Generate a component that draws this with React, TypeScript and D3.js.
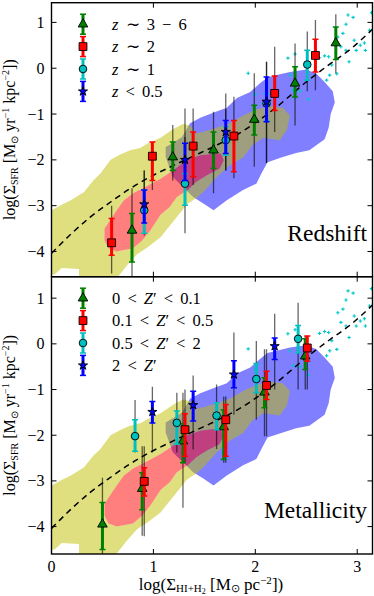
import React from 'react';
import * as d3 from 'd3';

// axis ticks
const xTicks = [0, 1, 2, 3];
const xTickLabels = ['0', '1', '2', '3'];
const yTicks = [1, 0, -1, -2, -3, -4];
const yTickLabels = ['1', '0', '−1', '−2', '−3', '−4'];

// model curve (dashed)
const fitGas = [0, 0.21, 0.38, 0.58, 0.77, 0.97, 1.18, 1.39, 1.62, 1.82, 2.19, 2.5, 2.73, 2.93, 3.15];
const fitSfr = [-4.04, -3.58, -3.25, -2.92, -2.63, -2.37, -2.14, -1.92, -1.68, -1.45, -0.88, -0.3, 0.09, 0.41, 0.85];

// background contours [logGas, logSfr]
const yellowContour = [
  [0, -3.1], [0.1, -2.98], [0.19, -2.88], [0.32, -2.7], [0.41, -2.45], [0.48, -2.3], [0.58, -2.0],
  [0.68, -1.88], [0.77, -1.79], [0.87, -1.74], [0.94, -1.65], [1.07, -1.52], [1.2, -1.32],
  [1.29, -1.22], [1.36, -1.25], [1.42, -1.42], [1.5, -1.38], [1.62, -1.3], [1.75, -1.2],
  [1.88, -1.03], [2.01, -0.9], [2.14, -0.83], [2.27, -0.86], [2.34, -1.04], [2.31, -1.35],
  [2.24, -1.57], [2.08, -1.52], [1.97, -1.68], [1.88, -1.95], [1.75, -2.12], [1.62, -2.38],
  [1.5, -2.68], [1.43, -2.82], [1.33, -2.97], [1.2, -3.33], [1.07, -3.69], [0.94, -3.91],
  [0.84, -4.06], [0.75, -4.28], [0.6, -4.7], [0.27, -4.7], [0.27, -4.38], [0.1, -4.36],
  [0.03, -4.5], [0, -4.5],
];
const redContour = [
  [0.52, -3.5], [0.58, -3.3], [0.64, -3.1], [0.71, -2.88], [0.8, -2.73], [0.92, -2.59],
  [1.07, -2.41], [1.2, -2.22], [1.33, -2.0], [1.46, -1.9], [1.58, -1.87], [1.66, -1.86],
  [1.69, -2.01], [1.65, -2.19], [1.52, -2.34], [1.42, -2.48], [1.34, -2.65], [1.23, -2.81],
  [1.16, -3.03], [1.07, -3.2], [0.97, -3.54], [0.89, -3.76], [0.8, -3.93], [0.64, -4.0],
  [0.56, -3.93], [0.52, -3.76],
];
const blueContour = [
  [1.12, -1.72], [1.2, -1.62], [1.28, -1.5], [1.36, -1.2], [1.46, -1.08], [1.6, -0.96],
  [1.72, -0.86], [1.82, -0.65], [1.95, -0.52], [2.04, -0.34], [2.12, -0.2], [2.21, -0.15],
  [2.34, -0.08], [2.5, -0.03], [2.6, -0.12], [2.68, -0.3], [2.76, -0.5], [2.78, -0.75],
  [2.74, -1.0], [2.72, -1.3], [2.68, -1.55], [2.53, -1.79], [2.4, -1.85], [2.27, -1.94],
  [2.12, -2.05], [2.06, -2.3], [2.01, -2.52], [1.88, -2.66], [1.72, -2.88], [1.59, -3.1],
  [1.49, -2.95], [1.39, -2.81], [1.29, -2.59], [1.19, -2.37], [1.12, -1.94],
];

// small cyan points at high density
const highDensity = [
  [1.93, -0.11], [2.0, -0.57], [2.32, 0.22], [2.39, 0.31], [2.34, -0.15], [2.44, -0.5],
  [2.52, -0.68], [2.37, -0.48], [2.63, 0.23], [2.68, 0.27], [2.72, 0.25], [2.7, -0.26],
  [2.73, -0.15], [2.75, 0.07], [2.8, -0.12], [2.81, 0.68], [2.84, 0.47], [2.86, 0.76],
  [2.89, 0.96], [2.91, 1.16], [2.96, 1.11], [2.92, 0.14], [2.89, 0.39], [2.97, 0.61],
  [2.99, 0.39], [3.03, 0.5], [3.07, 0.55], [3.08, 0.39], [3.12, 0.83], [3.14, 1.21],
];

// [logGas, logSfr, barLo, barHi, rangeLo, rangeHi]
const zHigh = [
  [0.79, -3.54, -4.23, -3.17, -4.55, -2.62],
  [1.19, -1.94, -2.23, -1.61, -2.45, -1.24],
  [1.59, -1.79, -2.19, -1.39, -2.73, -0.95],
  [1.99, -1.12, -1.46, -0.81, -2.15, -0.11],
  [2.39, -0.33, -0.63, 0.03, -1.25, 0.54],
  [2.79, 0.55, 0.19, 0.9, -0.11, 1.18],
];
const zTwo = [
  [0.59, -3.81, -4.08, -3.28, -4.48, -3.0],
  [0.99, -1.92, -2.45, -1.61, -2.66, -1.61],
  [1.39, -1.7, -2.37, -1.39, -2.55, -0.88],
  [1.79, -1.48, -2.26, -1.14, -2.4, -0.62],
  [2.19, -0.55, -0.92, -0.17, -1.39, 0.47],
  [2.59, 0.28, -0.08, 0.63, -0.48, 1.05],
];
const zOne = [
  [0.91, -3.1, -3.6, -2.66, -3.65, -2.23],
  [1.31, -2.52, -2.99, -2.3, -3.6, -1.5],
  [1.71, -1.57, -1.9, -1.28, -2.23, -0.9],
  [2.11, -0.77, -1.14, -0.55, -2.07, 0.14],
  [2.51, 0.08, -0.26, 0.39, -0.5, 0.8],
];
const zLow = [
  [0.91, -2.97, -3.38, -2.66, -3.4, -2.23],
  [1.31, -2.0, -2.45, -1.64, -2.55, -0.88],
  [1.71, -1.39, -1.86, -1.14, -2.23, -0.55],
  [2.11, -0.73, -1.17, -0.19, -2.07, 0.14],
];

const metVeryLow = [
  [0.5, -3.95, -4.5, -3.47, -4.6, -2.93],
  [0.89, -3.17, -3.63, -2.82, -4.2, -2.24],
  [1.29, -2.13, -2.6, -1.75, -3.59, -1.07],
  [1.69, -1.82, -2.53, -1.45, -2.6, -1.15],
  [2.09, -1.06, -1.4, -0.74, -2.02, -0.12],
  [2.49, -0.27, -0.56, 0.11, -1.0, 0.17],
];
const metLow = [
  [0.91, -3.01, -3.33, -2.71, -4.21, -2.24],
  [1.31, -1.88, -2.46, -1.53, -2.6, -1.0],
  [1.71, -1.66, -2.46, -1.33, -2.6, -1.15],
  [2.11, -0.91, -1.22, -0.6, -2.02, -0.12],
  [2.51, -0.09, -0.38, 0.17, -1.0, 0.17],
];
const metSolar = [
  [0.82, -2.02, -2.35, -1.66, -2.38, -1.23],
  [1.23, -1.73, -2.2, -1.47, -2.38, -1.07],
  [1.62, -1.57, -1.88, -1.29, -2.3, -0.89],
  [2.01, -0.77, -1.07, -0.43, -1.66, 0.06],
  [2.42, 0.11, -0.2, 0.4, -1.0, 0.9],
];
const metHigh = [
  [0.99, -1.49, -1.73, -1.26, -2.38, -0.94],
  [1.39, -1.34, -1.69, -1.04, -2.31, -0.69],
  [1.79, -0.67, -0.96, -0.37, -1.55, 0.25],
  [2.19, -0.05, -0.34, 0.13, -1.0, 0.66],
];

const redshiftLabels = ['z ∼ 3 − 6', 'z ∼ 2', 'z ∼ 1', 'z < 0.5'];
const metallicityLabels = ['0 < Z′ < 0.1', '0.1 < Z′ < 0.5', '0.5 < Z′ < 2', '2 < Z′'];

const seriesColors = ['#008000', '#ff0000', '#00bfbf', '#0000ff'];
const seriesSymbols = [d3.symbolTriangle, d3.symbolSquare, d3.symbolCircle, d3.symbolStar];
const symbolSizes = [40, 62, 46, 26];

const FONT = 'Liberation Serif';
const x = d3.scaleLinear().domain([0, 3.15]).range([51.5, 372.5]);

function italicize(label: string) {
  return label.split(/([zZ])/).filter(s => s !== '').map((s, i) =>
    /^[zZ]$/.test(s) ? <tspan key={i} fontStyle="italic">{s}</tspan> : <tspan key={i}>{s}</tspan>);
}

function ErrorMark({ cx, cy, lo, hi, k }: any) {
  const c = seriesColors[k];
  const path = d3.symbol().type(seriesSymbols[k]).size(symbolSizes[k])();
  return (
    <g>
      <line x1={cx} x2={cx} y1={lo} y2={hi} stroke={c} strokeWidth={3} />
      <line x1={cx - 3} x2={cx + 3} y1={lo} y2={lo} stroke={c} strokeWidth={1.5} />
      <line x1={cx - 3} x2={cx + 3} y1={hi} y2={hi} stroke={c} strokeWidth={1.5} />
      <path d={path || ''} transform={`translate(${cx},${cy})`} fill={c} stroke="#000" strokeWidth={0.9} />
    </g>
  );
}

function Panel({ top, bottom, domain, series, labels, title, id, showX }: any) {
  const y = d3.scaleLinear().domain(domain).range([bottom, top]);
  const poly = d3.line<number[]>().x(d => x(d[0])).y(d => y(d[1]));
  const fit = d3.line<number>().x((d, i) => x(fitGas[i])).y(d => y(d)).curve(d3.curveMonotoneX);
  const [x0, x1] = x.range();
  const yellowPath = poly(yellowContour) + 'Z' + poly(redContour) + 'Z';
  const cy = (top + bottom) / 2;
  return (
    <g>
      <defs>
        <clipPath id={id}>
          <rect x={x0} y={top} width={x1 - x0} height={bottom - top} />
        </clipPath>
      </defs>
      <g clipPath={`url(#${id})`}>
        <path d={poly(blueContour) + 'Z'} fill="rgba(0,0,255,0.5)" />
        <path d={yellowPath} fill="rgba(191,191,0,0.5)" fillRule="evenodd" />
        <path d={poly(redContour) + 'Z'} fill="rgba(255,0,0,0.5)" />
        {highDensity.map((d, i) => (
          <path key={i} d={`M${x(d[0]) - 1.7},${y(d[1])}h3.4M${x(d[0])},${y(d[1]) - 1.7}v3.4`}
            stroke="#00c8c8" strokeWidth={1.1} />
        ))}
        <path d={fit(fitSfr) || ''} fill="none" stroke="#000" strokeWidth={1.5} strokeDasharray="6,4.5" />
        {series.map((s: number[][], k: number) => s.map((d, i) => (
          <line key={`g${k}-${i}`} x1={x(d[0])} x2={x(d[0])} y1={y(d[4])} y2={y(d[5])}
            stroke="rgba(0,0,0,0.6)" strokeWidth={1.3} />
        )))}
        {series.map((s: number[][], k: number) => s.map((d, i) => (
          <ErrorMark key={`m${k}-${i}`} cx={x(d[0])} cy={y(d[1])} lo={y(d[2])} hi={y(d[3])} k={k} />
        )))}
      </g>
      {labels.map((lab: string, k: number) => {
        const ly = top + 21.5 + k * 22.4;
        return (
          <g key={lab}>
            <ErrorMark cx={83} cy={ly} lo={ly + 10} hi={ly - 10} k={k} />
            <text x={112} y={ly + 5.5} fontSize={16.5} fontFamily={FONT} wordSpacing={3}>{italicize(lab)}</text>
          </g>
        );
      })}
      <text x={367} y={bottom - 36} fontSize={23.5} fontFamily={FONT} textAnchor="end">{title}</text>
      <rect x={x0} y={top} width={x1 - x0} height={bottom - top} fill="none" stroke="#000" strokeWidth={1.4} />
      {yTicks.map((t, i) => (
        <g key={t}>
          <line x1={x0} x2={x0 + 5} y1={y(t)} y2={y(t)} stroke="#000" />
          <line x1={x1 - 5} x2={x1} y1={y(t)} y2={y(t)} stroke="#000" />
          <text x={44.5} y={y(t) + 5.5} fontSize={16} fontFamily={FONT} textAnchor="end">{yTickLabels[i]}</text>
        </g>
      ))}
      {xTicks.map((t, i) => (
        <g key={t}>
          <line x1={x(t)} x2={x(t)} y1={bottom} y2={bottom - 5} stroke="#000" />
          <line x1={x(t)} x2={x(t)} y1={top} y2={top + 5} stroke="#000" />
          {showX && <text x={x(t)} y={bottom + 17.5} fontSize={16} fontFamily={FONT} textAnchor="middle">{xTickLabels[i]}</text>}
        </g>
      ))}
      <text transform={`translate(15,${cy}) rotate(-90)`} textAnchor="middle" fontSize={16} fontFamily={FONT}>
        log(Σ<tspan dy={3} fontSize={10}>SFR</tspan>
        <tspan dy={-3}> [M</tspan><tspan dy={3} fontSize={10}>⊙</tspan>
        <tspan dy={-3}> yr</tspan><tspan dy={-6} fontSize={10}>−1</tspan>
        <tspan dy={6}> kpc</tspan><tspan dy={-6} fontSize={10}>−2</tspan>
        <tspan dy={6}>])</tspan>
      </text>
    </g>
  );
}

export default function App() {
  return (
    <div style={{ position: 'absolute', left: 0, top: 0 }}>
      <svg width={374} height={596} style={{ display: 'block', background: '#fff' }}>
        <Panel top={2.7} bottom={276.7} domain={[-4.55, 1.43]} id="clipTop"
          series={[zHigh, zTwo, zOne, zLow]} labels={redshiftLabels} title="Redshift" showX={false} />
        <Panel top={276.7} bottom={554} domain={[-4.6, 1.47]} id="clipBottom"
          series={[metVeryLow, metLow, metSolar, metHigh]} labels={metallicityLabels} title="Metallicity" showX={true} />
        <text x={211} y={589.5} textAnchor="middle" fontSize={17} fontFamily={FONT}>
          log(Σ<tspan dy={2.5} fontSize={11}>HI+H</tspan><tspan dy={1.5} fontSize={8}>2</tspan>
          <tspan dy={-4}> [M</tspan><tspan dy={2.5} fontSize={11}>⊙</tspan>
          <tspan dy={-2.5}> pc</tspan><tspan dy={-6} fontSize={11}>−2</tspan>
          <tspan dy={6}>])</tspan>
        </text>
      </svg>
    </div>
  );
}
